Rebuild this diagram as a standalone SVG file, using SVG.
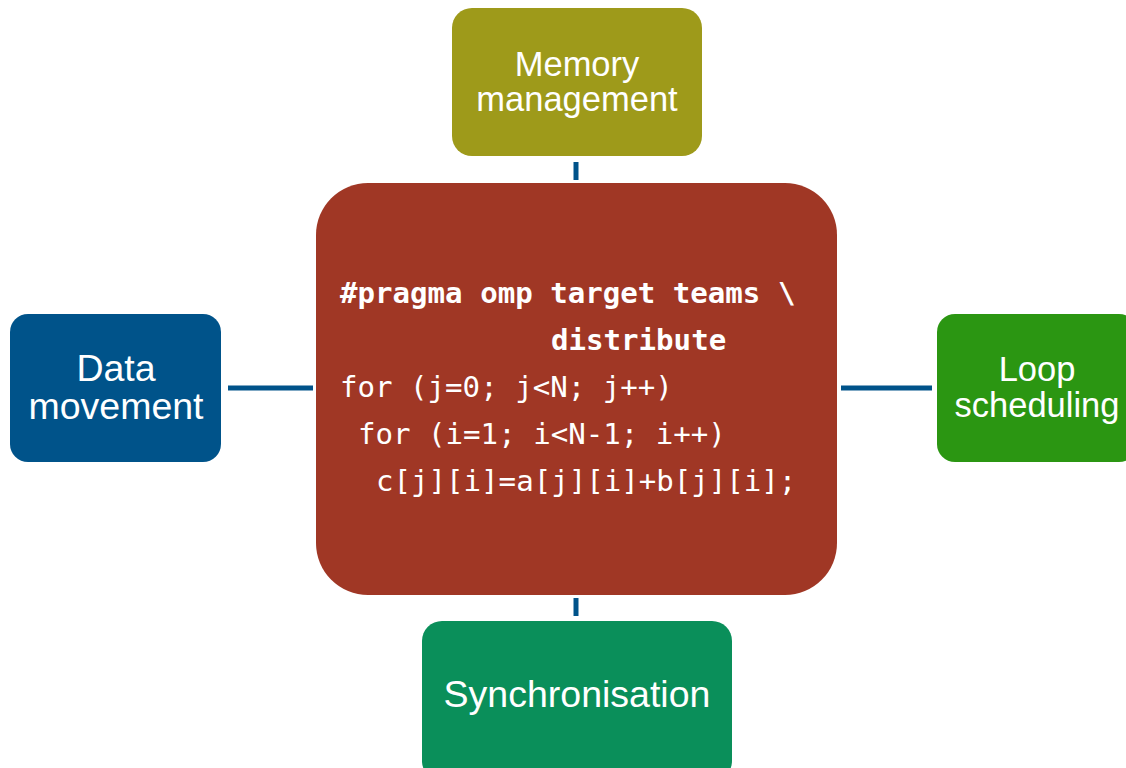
<svg xmlns="http://www.w3.org/2000/svg" width="1126" height="768" viewBox="0 0 1126 768">
<style>
.lbl{font-family:"Liberation Sans",Arial,sans-serif;font-size:34.5px;fill:#ffffff;text-anchor:middle}
.big{font-size:37.5px}
.code{font-family:"DejaVu Sans Mono","Liberation Mono",monospace;font-size:29.1px;fill:#ffffff}
.b{font-weight:bold}
.conn{stroke:#00538A;stroke-width:5;fill:none}
</style>
<rect width="1126" height="768" fill="#ffffff"/>
<g id="connectors">
<line class="conn" x1="576" y1="162" x2="576" y2="180"/>
<line class="conn" x1="228" y1="388" x2="313" y2="388"/>
<line class="conn" x1="841" y1="388" x2="932" y2="388"/>
<line class="conn" x1="576" y1="598" x2="576" y2="616"/>
</g>
<g id="memory">
<rect x="452" y="8" width="250" height="148" rx="20" fill="#9E9A1A"/>
<text class="lbl" x="577" y="76">Memory</text>
<text class="lbl" x="577" y="111">management</text>
</g>
<g id="center">
<rect x="316" y="183" width="521" height="412" rx="52" fill="#A03725"/>
<text class="code b" x="340" y="303">#pragma omp target teams \</text>
<text class="code b" x="551" y="350">distribute</text>
<text class="code" x="340" y="397">for (j=0; j&lt;N; j++)</text>
<text class="code" x="358" y="444">for (i=1; i&lt;N-1; i++)</text>
<text class="code" x="376" y="491">c[j][i]=a[j][i]+b[j][i];</text>
</g>
<g id="data">
<rect x="10" y="314" width="211" height="148" rx="18" fill="#00538A"/>
<text class="lbl big" x="116" y="381">Data</text>
<text class="lbl big" x="116" y="419">movement</text>
</g>
<g id="loop">
<rect x="937" y="314" width="200" height="148" rx="18" fill="#2B9612"/>
<text class="lbl" x="1037" y="381">Loop</text>
<text class="lbl" x="1037" y="417">scheduling</text>
</g>
<g id="sync">
<rect x="422" y="621" width="310" height="160" rx="20" fill="#0A8F5A"/>
<text class="lbl big" x="577" y="707">Synchronisation</text>
</g>
</svg>
